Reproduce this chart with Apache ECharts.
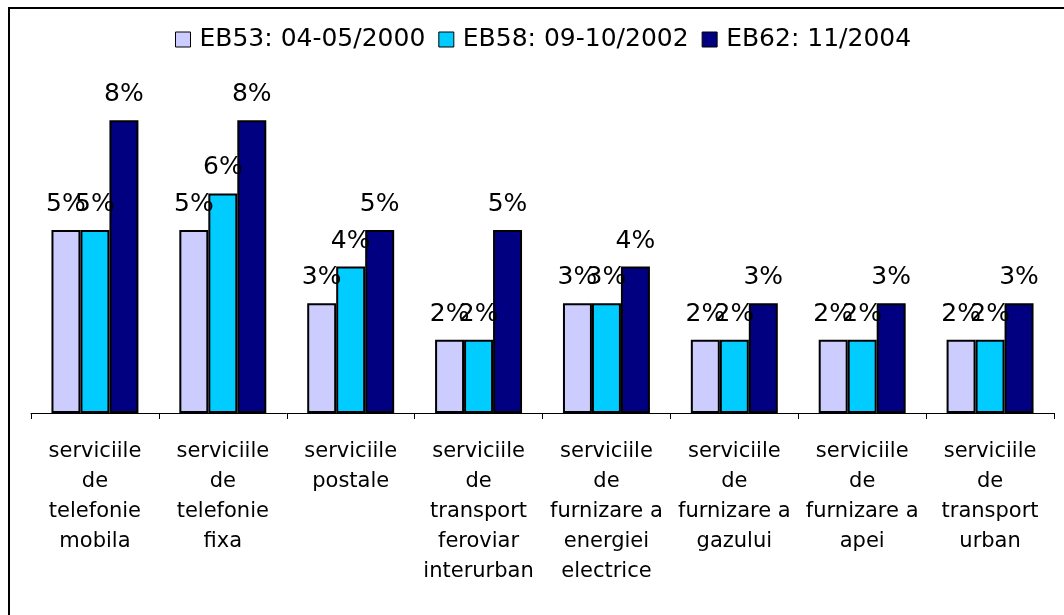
<!DOCTYPE html>
<html>
<head>
<meta charset="utf-8">
<script src="https://cdn.jsdelivr.net/npm/echarts@6/dist/echarts.min.js"></script>
<style>
  html, body { margin: 0; padding: 0; background: #fff; }
  #main { width: 1064px; height: 615px; }
</style>
</head>
<body>
<div id="main"></div>
<script>
// categorii (rupte pe randuri ca in original)
var categories = [
  'serviciile\nde\ntelefonie\nmobila',
  'serviciile\nde\ntelefonie\nfixa',
  'serviciile\npostale',
  'serviciile\nde\ntransport\nferoviar\ninterurban',
  'serviciile\nde\nfurnizare a\nenergiei\nelectrice',
  'serviciile\nde\nfurnizare a\ngazului',
  'serviciile\nde\nfurnizare a\napei',
  'serviciile\nde\ntransport\nurban'
];
var seriesNames = ['EB53: 04-05/2000', 'EB58: 09-10/2002', 'EB62: 11/2004'];
var eb53 = [5, 5, 3, 2, 3, 2, 2, 2];
var eb58 = [5, 6, 4, 2, 3, 2, 2, 2];
var eb62 = [8, 8, 5, 5, 4, 3, 3, 3];
var colors = ['#CCCCFF', '#00CCFF', '#000080'];

var chart = echarts.init(document.getElementById('main'));
var font = 'DejaVu Sans';

function mkSeries(name, data, color) {
  return {
    name: name,
    type: 'bar',
    data: data,
    barGap: 0,
    barCategoryGap: '32%',
    itemStyle: { color: color, borderColor: '#000', borderWidth: 2 },
    label: {
      show: true,
      position: 'top',
      distance: 13,
      formatter: '{c}%',
      color: '#000',
      fontFamily: font,
      fontSize: 25
    }
  };
}

var option = {
  animation: false,
  backgroundColor: '#fff',
  graphic: [{
    type: 'rect',
    silent: true,
    shape: { x: 9, y: 8, width: 1200, height: 800 },
    style: { fill: 'none', stroke: '#000', lineWidth: 2 }
  }],
  legend: {
    top: 22,
    left: 170,
    itemWidth: 15,
    itemHeight: 15,
    itemGap: 13,
    icon: 'rect',
    itemStyle: { borderColor: '#000', borderWidth: 1 },
    textStyle: { fontFamily: font, fontSize: 25, color: '#000', padding: [0, 0, 0, 4] },
    data: seriesNames
  },
  grid: { left: 31, right: 10, top: 47, bottom: 202 },
  xAxis: {
    type: 'category',
    data: categories,
    axisLine: { show: true, lineStyle: { color: '#000', width: 1 } },
    axisTick: { show: true, alignWithLabel: false, length: 6, lineStyle: { color: '#000', width: 1 } },
    axisLabel: {
      interval: 0,
      margin: 24,
      color: '#000',
      fontFamily: font,
      fontSize: 21,
      lineHeight: 30
    }
  },
  yAxis: {
    type: 'value',
    min: 0,
    max: 10,
    show: false
  },
  series: [
    mkSeries(seriesNames[0], eb53, colors[0]),
    mkSeries(seriesNames[1], eb58, colors[1]),
    mkSeries(seriesNames[2], eb62, colors[2])
  ]
};
chart.setOption(option);
</script>
</body>
</html>
